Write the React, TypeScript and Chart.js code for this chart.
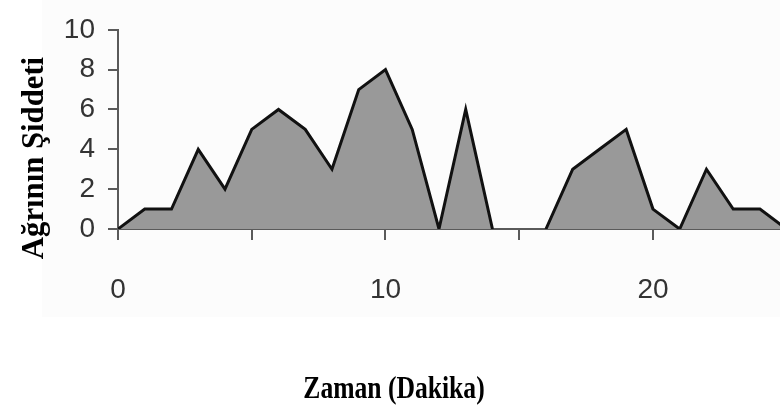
import React, { useEffect, useRef } from "react";
import { Chart, registerables } from "chart.js";

Chart.register(...registerables);

const minutes: number[] = [0, 1, 2, 3, 4, 5, 6, 7, 8, 9, 10, 11, 12, 13, 14, 15, 16, 17, 18, 19, 20, 21, 22, 23, 24, 25];
const painLevels: (number | null)[] = [0, 1, 1, 4, 2, 5, 6, 5, 3, 7, 8, 5, 0, 6, 0, null, 0, 3, 4, 5, 1, 0, 3, 1, 1, 0];
const xTickLabels: Record<number, string> = { 0: "0", 10: "10", 20: "20" };
const yTitle = "Ağrının Şiddeti";
const xTitle = "Zaman (Dakika)";

const W = 780;
const H = 406;
const LEFT = 118;
const TOP = 16;
const BOTTOM = 229;

const titlePlugin = {
  id: "customTitles",
  afterDraw(chart: any) {
    const ctx = chart.ctx as CanvasRenderingContext2D;
    ctx.save();
    ctx.fillStyle = "#000";
    ctx.font = "bold 32px 'Liberation Serif', 'Times New Roman', serif";
    ctx.textAlign = "center";
    ctx.textBaseline = "alphabetic";
    ctx.translate(43, 158);
    ctx.rotate(-Math.PI / 2);
    ctx.scale(0.96, 1);
    ctx.fillText(yTitle, 0, 0);
    ctx.restore();

    ctx.save();
    ctx.fillStyle = "#000";
    ctx.font = "bold 32px 'Liberation Serif', 'Times New Roman', serif";
    ctx.textAlign = "center";
    ctx.textBaseline = "alphabetic";
    ctx.translate(394, 398);
    ctx.scale(0.8, 1);
    ctx.fillText(xTitle, 0, 0);
    ctx.restore();
  },
};

const bgPlugin = {
  id: "bg",
  beforeDraw(chart: any) {
    const ctx = chart.ctx as CanvasRenderingContext2D;
    ctx.save();
    ctx.fillStyle = "#ffffff";
    ctx.fillRect(0, 0, W, H);
    ctx.fillStyle = "#fcfcfc";
    ctx.fillRect(42, 0, W - 42, 317);
    ctx.restore();
  },
};

export default function App() {
  const ref = useRef<HTMLCanvasElement | null>(null);
  useEffect(() => {
    document.body.style.margin = "0";
    if (!ref.current) return;
    const data = minutes.map((m, i) => ({ x: m, y: painLevels[i] }));
    const chart = new Chart(ref.current, {
      type: "line",
      data: {
        datasets: [
          {
            data: data as any,
            borderColor: "#111",
            borderWidth: 3,
            backgroundColor: "#999999",
            fill: "origin",
            pointRadius: 0,
            tension: 0,
            spanGaps: false,
            borderJoinStyle: "miter",
          },
        ],
      },
      plugins: [bgPlugin, titlePlugin],
      options: {
        animation: false,
        responsive: false,
        maintainAspectRatio: false,
        layout: { padding: { left: 0, right: 0, top: TOP, bottom: 0 } },
        plugins: { legend: { display: false }, tooltip: { enabled: false } },
        scales: {
          x: {
            type: "linear",
            min: 0,
            max: 24.75,
            afterFit(scale: any) {
              scale.height = H - BOTTOM;
            },
            border: { display: true, color: "#5a5a5a", width: 2 },
            grid: {
              drawOnChartArea: false,
              drawTicks: true,
              tickLength: 11,
              color: "#5a5a5a",
              lineWidth: 2,
            },
            ticks: {
              stepSize: 5,
              includeBounds: false,
              autoSkip: false,
              maxRotation: 0,
              padding: 33,
              color: "#333333",
              font: { family: "'Liberation Sans', Arial, sans-serif", size: 28 },
              callback: (v: any) => xTickLabels[v as number] ?? "",
            },
          },
          y: {
            type: "linear",
            min: 0,
            max: 10,
            afterFit(scale: any) {
              scale.width = LEFT;
            },
            border: { display: true, color: "#5a5a5a", width: 2 },
            grid: {
              drawOnChartArea: false,
              drawTicks: true,
              tickLength: 10,
              color: "#5a5a5a",
              lineWidth: 2,
            },
            ticks: {
              stepSize: 2,
              padding: 13,
              color: "#333333",
              font: { family: "'Liberation Sans', Arial, sans-serif", size: 28 },
            },
          },
        },
      },
    });
    return () => chart.destroy();
  }, []);
  return (
    <div style={{ position: "absolute", left: 0, top: 0, width: W, height: H }}>
      <canvas ref={ref} width={W} height={H} style={{ width: W, height: H, display: "block" }} />
    </div>
  );
}
